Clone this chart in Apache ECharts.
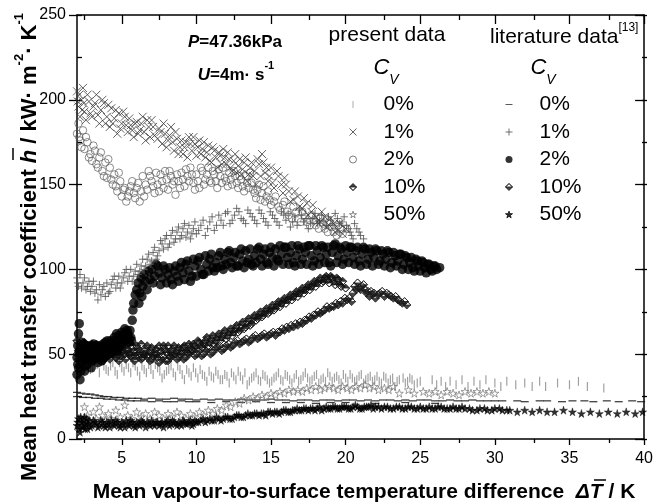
<!DOCTYPE html>
<html><head><meta charset="utf-8">
<script src="https://cdn.jsdelivr.net/npm/echarts@6/dist/echarts.min.js"></script>
<style>html,body{margin:0;padding:0;background:#fff}#c{width:656px;height:504px}</style>
</head><body><div id="c"></div>
<script>
// ---------- axis ticks ----------
const xTicks = [5, 10, 15, 20, 25, 30, 35, 40];
const xMinorTicks = [2.5, 7.5, 12.5, 17.5, 22.5, 27.5, 32.5, 37.5];
const yTicks = [0, 50, 100, 150, 200, 250];

// ---------- present data ----------
const presentCv0 = [[2.6,44],[2.9,41],[3.2,46],[3.5,39],[3.8,43],[4.1,40],[4.4,45],[4.7,38],[5.0,42],[5.3,44],[5.6,39],[5.9,43],[6.2,37],[6.5,41],[6.8,44],[7.1,38],[7.4,42],[7.7,36],[8.0,40],[8.3,43],[8.6,37],[8.9,41],[9.2,35],[9.5,39],[9.8,42],[10.1,36],[10.4,38],[10.7,34],[11.0,37],[11.3,40],[11.6,35],[11.9,38],[12.2,33],[12.5,37],[12.8,40],[13.1,35],[13.4,32],[13.7,36],[14.0,39],[14.3,34],[14.6,37],[14.9,33],[15.2,36],[15.5,39],[15.8,34],[16.1,37],[16.4,33],[16.7,38],[17.0,35],[17.3,39],[17.6,34],[17.9,37],[18.2,33],[18.5,36],[18.8,39],[19.1,34],[19.4,37],[19.7,33],[20.0,36],[20.3,38],[20.6,34],[20.9,37],[21.2,33],[21.5,36],[21.8,34],[22.1,37],[22.4,33],[22.7,36],[23.0,35],[23.3,31],[23.6,35],[24.0,33],[24.3,36],[24.6,32],[25.0,34],[25.8,35],[26.1,32],[26.4,34],[26.7,31],[27.0,34],[27.4,32],[27.8,35],[28.2,31],[28.6,34],[29.0,32],[29.4,35],[30.0,33],[30.4,31],[30.8,34],[31.4,32],[32.0,33],[32.5,31],[33.0,34],[33.4,31],[34.2,33],[35.0,32],[35.6,34],[36.2,31],[37.3,30],
  [2.75,46],[3.05,42],[3.35,44],[3.65,47],[3.95,41],[4.25,43],[4.55,40],[4.85,45],[5.15,40],[5.45,42],[5.75,45],[6.05,40],[6.35,43],[6.65,39],[6.95,41],[7.25,44],[7.55,40],[7.85,38],[8.15,41],[8.45,39],[8.75,43],[9.05,38],[9.35,41],[9.65,37],[9.95,39],[10.25,41],[10.55,37],[10.85,40],[11.15,36],[11.45,38],[11.75,35],[12.05,37],[12.35,39],[12.65,35],[12.95,37],[13.25,39],[13.55,34],[13.85,37],[14.15,35],[14.45,38],[14.75,35],[15.05,34],[15.35,37],[15.65,35],[15.95,38],[16.25,35],[16.55,36],[16.85,34],[17.15,37],[17.45,36],[17.75,35],[18.05,38],[18.35,35],[18.65,34],[18.95,37],[19.25,36],[19.55,35],[19.85,38],[20.15,34],[20.45,36],[20.75,35],[21.05,38],[21.35,35],[21.65,37],[21.95,35],[22.25,34],[22.55,37],[22.85,33],[23.15,36],[23.45,34],[23.85,36],[24.15,34],[24.45,35],[24.8,33]];
const presentCv1 = [[2.0,205],[2.1,196],[2.2,190],[2.3,200],[2.4,207],[2.5,193],[2.6,188],[2.8,199],[3.0,190],[3.1,196],[3.3,203],[3.5,186],[3.6,194],[3.8,198],[4.0,190],[4.2,184],[4.3,195],[4.5,189],[4.7,180],[4.8,192],[5.0,186],[5.2,190],[5.4,181],[5.6,185],[5.8,178],[6.0,187],[6.2,182],[6.4,190],[6.6,176],[6.8,184],[7.0,188],[7.2,179],[7.5,183],[7.7,174],[7.9,180],[8.1,176],[8.3,184],[8.5,170],[8.7,177],[8.9,172],[9.1,168],[9.3,175],[9.5,178],[9.7,170],[9.9,174],[10.0,167],[10.2,176],[10.4,171],[10.6,166],[10.8,173],[11.0,163],[11.2,170],[11.4,160],[11.6,167],[11.8,171],[12.0,162],[12.2,165],[12.4,158],[12.6,168],[12.8,161],[13.0,156],[13.2,163],[13.4,152],[13.6,160],[13.8,155],[14.0,150],[14.2,162],[14.4,168],[14.6,157],[14.8,152],[15.0,160],[15.2,148],[15.5,155],[15.8,145],[16.0,150],[16.3,140],[16.6,146],[16.9,137],[17.2,142],[17.5,132],[17.8,138],[18.1,128],[18.4,134],[18.7,125],[19.0,130],[19.3,122],[19.6,127],[20.0,124],
  [2.05,199],[2.15,203],[2.35,194],[2.45,198],[2.7,203],[2.9,192],[3.2,198],[3.4,191],[3.7,200],[3.9,186],[4.1,197],[4.4,186],[4.6,194],[4.9,183],[5.1,193],[5.3,185],[5.5,189],[5.7,182],[5.9,186],[6.1,180],[6.3,186],[6.5,181],[6.7,188],[6.9,178],[7.1,184],[7.4,177],[7.6,181],[7.8,186],[8.0,172],[8.2,179],[8.4,175],[8.6,181],[8.8,168],[9.0,176],[9.2,172],[9.4,166],[9.6,174],[9.8,178],[10.1,172],[10.3,168],[10.5,175],[10.7,169],[10.9,164],[11.1,172],[11.3,166],[11.5,169],[11.7,162],[11.9,166],[12.1,169],[12.3,160],[12.5,164],[12.7,157],[12.9,165],[13.1,159],[13.3,166],[13.5,156],[13.7,163],[13.9,158],[14.1,165],[14.3,155],[14.5,163],[14.7,160],[14.9,155],[15.1,151],[15.4,158],[15.7,150],[15.9,154],[16.2,146],[16.5,141],[16.8,143],[17.1,136],[17.4,139],[17.7,134],[18.0,131],[18.3,128],[18.6,131],[18.9,126],[19.2,127],[19.5,123],[19.8,121]];
const presentCv2 = [[2.0,180],[2.1,186],[2.2,176],[2.4,182],[2.5,171],[2.7,175],[2.9,168],[3.0,164],[3.2,170],[3.4,160],[3.5,166],[3.7,158],[3.9,163],[4.0,154],[4.2,160],[4.4,150],[4.5,156],[4.7,146],[4.9,152],[5.0,143],[5.2,148],[5.3,140],[5.5,146],[5.7,152],[5.9,142],[6.0,148],[6.2,140],[6.4,155],[6.6,150],[6.8,158],[7.0,152],[7.2,145],[7.4,150],[7.6,156],[7.8,148],[8.0,153],[8.2,158],[8.4,150],[8.6,144],[8.8,152],[9.0,157],[9.2,149],[9.4,155],[9.6,160],[9.8,151],[10.0,156],[10.2,148],[10.4,158],[10.6,153],[10.8,160],[11.0,151],[11.2,156],[11.4,148],[11.6,155],[11.8,160],[12.0,152],[12.2,157],[12.4,150],[12.6,155],[12.8,148],[13.0,153],[13.2,146],[13.4,151],[13.6,157],[13.8,147],[14.0,142],[14.2,150],[14.4,145],[14.6,140],[14.8,146],[15.0,138],[15.3,143],[15.6,135],[15.9,140],[16.2,132],[16.5,137],[16.8,130],[17.1,134],[17.4,128],[17.7,132],[18.0,126],[18.3,130],[18.6,124],[18.9,128],[19.2,122],[19.5,126],[19.8,121],[20.1,124],
  [2.15,178],[2.3,172],[2.6,178],[2.8,166],[3.1,173],[3.3,162],[3.6,169],[3.8,155],[4.1,165],[4.3,153],[4.6,149],[4.8,157],[5.1,147],[5.4,143],[5.6,149],[5.8,145],[6.1,151],[6.3,146],[6.5,143],[6.7,147],[6.9,155],[7.1,149],[7.3,157],[7.5,146],[7.7,152],[7.9,158],[8.1,147],[8.3,155],[8.5,152],[8.7,156],[8.9,148],[9.1,153],[9.3,159],[9.5,152],[9.7,156],[9.9,147],[10.1,152],[10.3,160],[10.5,150],[10.7,156],[10.9,152],[11.1,158],[11.3,152],[11.5,159],[11.7,151],[11.9,154],[12.1,149],[12.3,153],[12.5,158],[12.7,151],[12.9,155],[13.1,149],[13.3,155],[13.5,148],[13.7,151],[13.9,145],[14.1,147],[14.3,141],[14.5,149],[14.7,143],[14.9,141],[15.2,140],[15.5,137],[15.8,138],[16.1,134],[16.4,130],[16.7,134],[17.0,128],[17.3,131],[17.6,126],[17.9,129],[18.2,124],[18.5,127],[18.8,122],[19.1,125],[19.4,120],[19.7,124]];
const presentCv10 = [[2.0,58],[2.1,52],[2.2,55],[2.4,50],[2.6,54],[2.8,51],[3.0,56],[3.2,50],[3.4,53],[3.6,49],[3.8,52],[4.0,55],[4.2,50],[4.4,53],[4.6,48],[4.8,52],[5.0,55],[5.2,50],[5.4,53],[5.6,49],[5.8,52],[6.0,55],[6.2,51],[6.4,48],[6.6,53],[6.8,50],[7.0,54],[7.2,51],[7.4,48],[7.6,52],[7.8,55],[8.0,51],[8.2,49],[8.4,53],[8.6,50],[8.8,54],[9.0,52],[9.2,55],[9.4,51],[9.6,54],[9.8,56],[10.0,53],[10.2,57],[10.4,54],[10.6,58],[10.8,55],[11.0,59],[11.2,56],[11.4,60],[11.6,58],[11.8,62],[12.0,59],[12.2,63],[12.4,61],[12.6,65],[12.8,63],[13.0,67],[13.2,65],[13.4,69],[13.6,67],[13.8,71],[14.0,70],[14.2,73],[14.4,72],[14.6,75],[14.8,74],[15.0,77],[15.2,76],[15.4,79],[15.6,78],[15.8,81],[16.0,80],[16.2,83],[16.4,82],[16.6,85],[16.8,84],[17.0,87],[17.2,86],[17.4,89],[17.6,88],[17.8,91],[18.0,90],[18.2,93],[18.4,92],[18.6,95],[18.8,94],[19.0,96],[19.2,93],[19.4,95],[19.6,91],[19.8,93],[20.0,89],
  [2.3,48],[2.5,57],[2.7,49],[2.9,55],[3.1,48],[3.3,56],[3.5,51],[3.7,55],[3.9,48],[4.1,52],[4.3,56],[4.5,51],[4.7,54],[4.9,49],[5.1,52],[5.3,56],[5.5,51],[5.7,55],[5.9,49],[6.1,53],[6.3,56],[6.5,50],[6.7,55],[6.9,52],[7.1,49],[7.3,53],[7.5,55],[7.7,50],[7.9,53],[8.1,55],[8.3,51],[8.5,55],[8.7,52],[8.9,50],[9.1,54],[9.3,52],[9.5,56],[9.7,53],[9.9,55],[10.1,58],[10.3,55],[10.5,56],[10.7,60],[10.9,57],[11.1,61],[11.3,58],[11.5,62],[11.7,60],[11.9,64],[12.1,61],[12.3,65],[12.5,63],[12.7,67],[12.9,64],[13.1,69],[13.3,66],[13.5,71],[13.7,68],[13.9,73],[14.1,71],[14.3,75],[14.5,73],[14.7,77],[14.9,75],[15.1,79],[15.3,77],[15.5,81],[15.7,80],[15.9,83],[16.1,82],[16.3,85],[16.5,84],[16.7,87],[16.9,86],[17.1,89],[17.3,88],[17.5,91],[17.7,90],[17.9,93],[18.1,92],[18.3,95],[18.5,93],[18.7,96],[18.9,92],[19.1,95],[19.3,91],[19.5,94],[19.7,90]];
const presentCv50 = [[2.1,5],[2.2,12],[2.3,8],[2.5,19],[2.7,14],[2.9,10],[3.1,16],[3.3,12],[3.5,19],[3.7,14],[3.9,11],[4.1,15],[4.3,12],[4.6,17],[4.9,13],[5.2,20],[5.4,14],[5.7,12],[6.0,16],[6.3,13],[6.6,15],[6.9,12],[7.2,16],[7.5,14],[7.8,12],[8.1,15],[8.4,13],[8.7,16],[9.0,14],[9.3,12],[9.6,15],[9.9,13],[10.2,16],[10.5,14],[10.8,17],[11.1,15],[11.4,18],[11.7,17],[12.0,20],[12.3,19],[12.6,22],[12.9,21],[13.2,24],[13.5,23],[13.8,25],[14.1,24],[14.4,26],[14.7,25],[15.0,27],[15.3,26],[15.6,28],[15.9,27],[16.2,29],[16.5,28],[16.8,29],[17.1,28],[17.4,30],[17.7,29],[18.0,31],[18.3,29],[18.6,30],[18.9,31],[19.2,30],[19.5,29],[19.8,31],[20.1,30],[20.4,29],[20.7,31],[21.0,30],[21.3,32],[21.6,30],[21.9,31],[22.2,29],[22.6,30],[22.9,29],[23.2,31],[23.6,27],[24.2,29],[24.6,27],[25.2,28],[25.6,27],[26.0,28],[26.4,26],[26.8,28],[27.2,27],[27.6,26],[28.0,28],[28.4,27],[28.8,28],[29.2,27],[29.6,28],[30.0,27]];

// ---------- literature data [13] ----------
const litCv0 = [[2.0,27.5],[2.3,27],[2.6,26.5],[2.9,26.5],[3.2,26],[3.5,25.5],[3.8,25],[4.1,25],[4.5,24.5],[4.9,24.5],[5.3,24],[5.7,24],[6.1,24],[6.5,23.5],[7.0,24],[7.5,23.5],[8.0,23.5],[8.5,24],[9.0,23.5],[9.5,23.5],[10.0,23],[10.5,23.5],[11.0,23],[11.5,23.5],[12.0,23],[12.5,23],[13.0,23.5],[13.5,23],[14.0,23],[14.5,23],[15.0,23.5],[15.5,23],[16.0,23],[16.5,22.5],[17.0,23],[17.5,23],[18.0,22.5],[18.5,23],[19.0,23],[19.5,22.5],[20.0,23],[20.5,23],[21.0,22.5],[21.5,23],[22.0,22.5],[22.5,23],[23.0,23],[23.5,22.5],[24.0,23],[24.5,22.5],[25.0,23],[25.5,23],[26.0,22.5],[26.5,22.5],[27.0,23],[27.5,22.5],[28.0,22.5],[28.5,23],[29.0,22.5],[29.5,22.5],[30.0,22.5],[30.5,22.5],[31.5,22.5],[32.0,22],[33.0,22.5],[33.5,22.5],[34.5,22],[35.2,22.5],[36.0,22.5],[36.6,22],[37.5,22.5],[38.3,22],[39.2,22.5],[39.8,22],
  [2.0,25],[2.4,24.5],[2.8,24.5],[3.2,24],[3.6,24],[4.0,23.5],[4.4,23.5],[4.8,23],[5.2,23],[5.6,22.5],[6.0,22.5],[6.5,22.5],[7.0,22],[7.5,22.5],[8.0,22],[8.5,22],[9.0,22.5],[9.5,22],[10.0,22],[11.0,21.5],[12.0,22],[13.0,21.5],[14.0,22],[15.0,21.5],[16.0,21.5],[17.0,21.5],[18.0,21],[19.0,21.5],[20.0,21.5],[22.0,21],[24.0,21.5],[26.0,21]];
const litCv1 = [[2.0,95],[2.1,90],[2.2,97],[2.4,92],[2.6,88],[2.8,93],[3.0,90],[3.2,86],[3.4,82],[3.5,91],[3.7,88],[3.9,84],[4.0,92],[4.2,87],[4.4,94],[4.6,89],[4.8,96],[5.0,92],[5.2,98],[5.4,93],[5.6,100],[5.8,96],[6.0,103],[6.2,99],[6.4,106],[6.6,102],[6.8,109],[7.0,105],[7.2,113],[7.4,108],[7.6,117],[7.8,112],[8.0,120],[8.2,115],[8.4,123],[8.6,118],[8.8,125],[9.0,120],[9.2,127],[9.4,122],[9.6,118],[9.8,124],[10.0,121],[10.3,126],[10.6,120],[10.9,128],[11.2,123],[11.5,132],[11.8,126],[12.1,134],[12.4,129],[12.7,136],[13.0,130],[13.3,127],[13.6,133],[13.9,129],[14.2,135],[14.5,130],[14.8,126],[15.1,132],[15.4,128],[15.7,134],[16.0,129],[16.3,125],[16.6,131],[16.9,135],[17.2,128],[17.5,124],[17.8,130],[18.1,127],[18.4,132],[18.7,126],[19.0,129],[19.3,133],[19.6,127],[19.9,131],[20.2,124],[20.4,120],[20.6,127],[20.9,122],[21.2,118],
  [2.05,92],[2.3,89],[2.5,95],[2.7,90],[2.9,87],[3.1,93],[3.3,88],[3.6,85],[3.8,90],[4.1,86],[4.3,91],[4.5,96],[4.7,92],[4.9,89],[5.1,95],[5.3,100],[5.5,96],[5.7,93],[5.9,99],[6.1,97],[6.3,102],[6.5,100],[6.7,106],[6.9,103],[7.1,110],[7.3,106],[7.5,111],[7.7,115],[7.9,118],[8.1,113],[8.3,120],[8.5,116],[8.7,122],[8.9,118],[9.1,124],[9.3,119],[9.5,126],[9.7,121],[9.9,128],[10.15,123],[10.45,129],[10.75,124],[11.05,131],[11.35,126],[11.65,129],[11.95,133],[12.25,127],[12.55,132],[12.85,134],[13.15,129],[13.45,135],[13.75,131],[14.05,127],[14.35,133],[14.65,128],[14.95,134],[15.25,130],[15.55,126],[15.85,132],[16.15,133],[16.45,128],[16.75,126],[17.05,132],[17.35,130],[17.65,127],[17.95,133],[18.25,129],[18.55,128],[18.85,131],[19.15,126],[19.45,130],[19.75,128],[20.05,126],[20.3,122],[20.5,118],[20.75,124],[21.0,120]];
const litCv2 = [[2.0,38],[2.0,48],[2.05,55],[2.1,42],[2.1,62],[2.15,68],[2.2,50],[2.2,35],[2.3,45],[2.3,57],[2.4,52],[2.5,40],[2.5,47],[2.6,55],[2.7,44],[2.8,50],[2.9,53],[3.0,46],[3.1,56],[3.2,49],[3.3,52],[3.4,45],[3.5,55],[3.6,50],[3.7,53],[3.8,48],[3.9,57],[4.0,52],[4.1,55],[4.2,50],[4.3,58],[4.4,54],[4.5,60],[4.6,55],[4.7,52],[4.8,61],[4.9,57],[5.0,63],[5.1,58],[5.2,65],[5.3,60],[5.4,62],[5.5,57],[5.6,60],
  [2.05,44],[2.15,52],[2.25,40],[2.35,49],[2.45,56],[2.55,43],[2.65,50],[2.75,47],[2.85,55],[2.95,42],[3.05,51],[3.15,47],[3.25,55],[3.35,50],[3.45,48],[3.55,52],[3.65,46],[3.75,56],[3.85,51],[3.95,49],[4.05,58],[4.15,53],[4.25,51],[4.35,56],[4.45,52],[4.55,58],[4.65,62],[4.75,56],[4.85,54],[4.95,60],[5.05,56],[5.15,62],[5.25,58],[5.35,64],[5.45,60],[5.55,64],[5.65,58],
  [5.7,70],[5.75,76],[5.8,80],[5.9,85],[6.0,88],[6.1,92],[6.2,86],[6.3,95],[6.4,90],[6.5,97],[6.6,93],[6.8,99],[6.9,94],[7.0,100],[7.2,96],[7.4,102],[7.5,98],[7.7,95],[7.9,100],[8.1,97],[8.3,94],[8.5,99],[8.7,96],[8.9,101],[9.1,98],[9.3,103],[9.5,99],[9.7,96],[9.9,102],[10.1,105],[10.3,100],[10.5,97],[10.7,103],[10.9,106],[11.1,101],[11.3,104],[11.5,108],[11.7,102],[11.9,106],[12.1,110],[12.3,104],[12.5,107],[12.7,102],[12.9,109],[13.1,105],[13.3,111],[13.5,106],[13.7,103],[13.9,108],[14.1,112],[14.3,106],[14.5,109],[14.7,104],[14.9,110],[15.1,107],[15.3,112],[15.5,105],[15.7,109],[15.9,113],[16.1,107],[16.3,110],[16.5,104],[16.7,108],[16.9,112],[17.1,106],[17.3,110],[17.5,114],[17.7,108],[17.9,105],[18.1,111],[18.3,107],[18.5,113],[18.7,109],[18.9,104],[19.1,110],[19.3,115],[19.5,108],[19.7,112],[19.9,106],[20.1,110],[20.3,113],[20.5,107],[20.7,111],[20.9,105],[21.1,109],[21.3,112],[21.5,106],[21.7,110],[21.9,107],[22.1,111],[22.3,105],[22.5,109],[22.7,106],[22.9,110],[23.1,104],[23.3,108],[23.5,105],[23.7,109],[23.9,103],[24.1,107],[24.3,104],[24.5,101],[24.7,106],[24.9,102],[25.1,105],[25.3,101],[25.5,103],[25.7,100],[25.9,102],[26.1,100],[26.3,101],
  [6.15,80],[6.35,84],[6.7,88],[7.1,92],[7.3,103],[7.6,91],[7.8,102],[8.0,92],[8.2,101],[8.4,91],[8.6,102],[8.8,93],[9.0,104],[9.2,94],[9.4,105],[9.6,93],[9.8,106],[10.0,96],[10.2,107],[10.4,97],[10.6,108],[10.8,99],[11.0,109],[11.2,99],[11.4,101],[11.6,110],[11.8,100],[12.0,103],[12.2,111],[12.4,101],[12.6,110],[12.8,102],[13.0,112],[13.2,101],[13.4,104],[13.6,112],[13.8,102],[14.0,104],[14.2,113],[14.4,102],[14.6,112],[14.8,103],[15.0,113],[15.2,102],[15.4,106],[15.6,114],[15.8,103],[16.0,113],[16.2,103],[16.4,114],[16.6,102],[16.8,114],[17.0,103],[17.2,113],[17.4,103],[17.6,114],[17.8,102],[18.0,114],[18.2,103],[18.4,114],[18.6,104],[18.8,113],[19.0,102],[19.2,114],[19.4,104],[19.6,113],[19.8,103],[20.0,114],[20.2,104],[20.4,113],[20.6,103],[20.8,113],[21.0,102],[21.2,113],[21.4,103],[21.6,112],[21.8,102],[22.0,112],[22.2,103],[22.4,111],[22.6,102],[22.8,111],[23.0,101],[23.2,110],[23.4,102],[23.6,109],[23.8,100],[24.0,108],[24.2,100],[24.4,107],[24.6,99],[24.8,105],[25.0,99],[25.2,104],[25.4,98],[25.6,103],[25.8,99],[26.0,102]];
const litCv10 = [[2.0,50],[2.2,53],[2.4,48],[2.6,51],[2.8,47],[3.0,50],[3.3,52],[3.6,48],[3.9,51],[4.2,47],[4.5,50],[4.8,46],[5.1,49],[5.4,52],[5.7,48],[6.0,51],[6.3,47],[6.6,50],[6.9,46],[7.2,49],[7.5,45],[7.8,48],[8.1,46],[8.4,49],[8.7,47],[9.0,50],[9.3,48],[9.6,51],[9.9,49],[10.2,52],[10.5,50],[10.8,53],[11.1,51],[11.4,54],[11.7,52],[12.0,55],[12.3,54],[12.6,57],[12.9,56],[13.2,58],[13.5,57],[13.8,60],[14.1,59],[14.4,61],[14.7,60],[15.0,62],[15.3,61],[15.6,63],[15.9,64],[16.2,65],[16.5,66],[16.8,67],[17.1,68],[17.4,70],[17.7,71],[18.0,73],[18.3,74],[18.6,76],[18.9,77],[19.2,78],[19.5,79],[19.8,80],[20.1,82],[20.4,81],[20.6,90],[20.8,92],[21.0,88],[21.2,91],[21.4,86],[21.6,84],[21.8,85],[22.0,83],[22.3,86],[22.6,84],[22.9,85],[23.2,83],[23.5,82],[23.8,80],[24.1,79],
  [2.1,47],[2.3,51],[2.5,46],[2.7,53],[2.9,49],[3.15,47],[3.45,50],[3.75,46],[4.05,49],[4.35,52],[4.65,48],[4.95,51],[5.25,47],[5.55,50],[5.85,46],[6.15,48],[6.45,50],[6.75,48],[7.05,47],[7.35,50],[7.65,47],[7.95,46],[8.25,48],[8.55,50],[8.85,48],[9.15,47],[9.45,50],[9.75,52],[10.05,50],[10.35,49],[10.65,52],[10.95,50],[11.25,53],[11.55,55],[11.85,53],[12.15,56],[12.45,55],[12.75,58],[13.05,57],[13.35,59],[13.65,58],[13.95,61],[14.25,60],[14.55,62],[14.85,61],[15.15,63],[15.45,63],[15.75,65],[16.05,66],[16.35,67],[16.65,68],[16.95,69],[17.25,70],[17.55,72],[17.85,73],[18.15,75],[18.45,75],[18.75,78],[19.05,78],[19.35,80],[19.65,81],[19.95,83],[20.25,83],[20.5,86],[20.7,88],[20.9,89],[21.1,90],[21.3,88],[21.5,87],[21.7,87],[21.9,86],[22.15,85],[22.45,87],[22.75,86],[23.05,84],[23.35,84],[23.65,81],[23.95,81]];
const litCv50 = [[2.0,8],[2.1,12],[2.2,4],[2.3,10],[2.4,7],[2.5,13],[2.6,9],[2.7,6],[2.8,11],[3.0,8],[3.2,10],[3.4,7],[3.6,11],[3.8,8],[4.0,10],[4.2,7],[4.4,9],[4.6,11],[4.8,8],[5.0,10],[5.2,7],[5.4,9],[5.6,11],[5.8,8],[6.0,10],[6.2,8],[6.4,10],[6.6,7],[6.8,9],[7.0,11],[7.2,8],[7.4,10],[7.6,9],[7.8,7],[8.0,10],[8.2,8],[8.4,11],[8.6,9],[8.8,10],[9.0,8],[9.2,10],[9.4,9],[9.6,11],[9.8,9],[10.0,10],[10.3,11],[10.6,10],[10.9,12],[11.2,11],[11.5,12],[11.8,12],[12.1,13],[12.4,12],[12.7,14],[13.0,13],[13.3,14],[13.6,14],[13.9,15],[14.2,14],[14.5,15],[14.8,16],[15.1,15],[15.4,16],[15.7,16],[16.0,17],[16.3,16],[16.6,17],[16.9,17],[17.2,18],[17.5,17],[17.8,18],[18.1,18],[18.4,17],[18.7,19],[19.0,18],[19.3,19],[19.6,18],[19.9,19],[20.2,18],[20.5,19],[20.8,19],[21.1,18],[21.4,19],[21.7,20],[22.0,19],[22.4,18],[22.8,19],[23.2,18],[23.6,19],[24.0,18],[24.4,19],[24.8,18],[25.2,18],[25.6,19],[26.0,18],[26.4,19],[26.8,18],[27.2,19],[27.6,18],[28.0,18],[28.5,17],[29.0,18],[29.5,17],[30.0,18],[30.5,17],[31.0,17],[31.5,16],[32.0,17],[32.5,16],[33.0,17],[33.5,16],[34.0,16],[34.6,17],[35.2,16],[35.8,15],[36.4,16],[37.0,15],[37.6,16],[38.2,15],[38.8,16],[39.4,15],[39.9,16],
  [2.05,10],[2.15,6],[2.25,13],[2.35,8],[2.45,11],[2.55,6],[2.65,12],[2.75,9],[2.9,7],[3.1,11],[3.3,9],[3.5,8],[3.7,10],[3.9,7],[4.1,9],[4.3,11],[4.5,8],[4.7,10],[4.9,7],[5.1,9],[5.3,11],[5.5,8],[5.7,10],[5.9,7],[6.1,9],[6.3,11],[6.5,9],[6.7,10],[6.9,8],[7.1,9],[7.3,10],[7.5,8],[7.7,10],[7.9,9],[8.1,11],[8.3,9],[8.5,10],[8.7,8],[8.9,9],[9.1,11],[9.3,9],[9.5,10],[9.7,8],[9.9,11],[10.15,10],[10.45,12],[10.75,11],[11.05,11],[11.35,13],[11.65,11],[11.95,13],[12.25,12],[12.55,13],[12.85,14],[13.15,13],[13.45,15],[13.75,14],[14.05,15],[14.35,15],[14.65,14],[14.95,16],[15.25,16],[15.55,15],[15.85,17],[16.15,16],[16.45,17],[16.75,18],[17.05,17],[17.35,18],[17.65,18],[17.95,17],[18.25,19],[18.55,18],[18.85,18],[19.15,19],[19.45,18],[19.75,19],[20.05,19],[20.35,18],[20.65,20],[20.95,18],[21.25,19],[21.55,19],[21.85,18],[22.2,19],[22.6,19],[23.0,18],[23.4,19],[23.8,18],[24.2,19],[24.6,18],[25.0,19],[25.4,18],[25.8,18],[26.2,19],[26.6,18],[27.0,18],[27.4,18],[27.8,19],[28.3,18],[28.8,17],[29.3,18],[29.8,17],[30.3,18],[30.8,17]];

// ---------- styling ----------
const FONT = '"Liberation Sans", Arial, Helvetica, sans-serif';
const SYM_VBAR = 'path://M0,0h1v8h-1z';
const SYM_HBAR = 'path://M0,0h8v1h-8z';
const SYM_X = 'path://M0,0L10,10M10,0L0,10';
const SYM_PLUS = 'path://M5,0L5,10M0,5L10,5';
const SYM_STAR = 'path://M50,0L61,35L98,35L68,57L79,91L50,70L21,91L32,57L2,35L39,35Z';
const SYM_DIA_TOP = 'path://M5,0L10,5L5,10L0,5Z M0,5L5,10L10,5Z';
const SYM_DIA_BOT = 'path://M5,0L10,5L5,10L0,5Z M0,5L10,5L5,0Z';
const CLEAR = 'rgba(0,0,0,0)';

function sc(name, data, symbol, size, itemStyle) {
  return { type: 'scatter', name, data, symbol, symbolSize: size, xAxisIndex: 0, yAxisIndex: 0,
    itemStyle, emphasis: { disabled: true }, silent: true, clip: true, large: false };
}

const series = [
  sc('literature 0%', litCv0, SYM_HBAR, [8, 1.3], { color: '#111' }),
  sc('present 0%', presentCv0, SYM_VBAR, [1.2, 9], { color: '#8a8a8a' }),
  sc('present 50%', presentCv50, SYM_STAR, 8, { color: CLEAR, borderColor: '#6a6a6a', borderWidth: 0.8 }),
  sc('literature 50%', litCv50, SYM_STAR, 8, { color: '#000', borderColor: '#000', borderWidth: 0.5 }),
  sc('literature 10%', litCv10, SYM_DIA_BOT, 8, { color: '#1a1a1a', borderColor: '#1a1a1a', borderWidth: 0.9 }),
  sc('present 10%', presentCv10, SYM_DIA_TOP, 8, { color: '#111', borderColor: '#111', borderWidth: 0.9 }),
  sc('literature 2%', litCv2, 'circle', 9.5, { color: '#000' }),
  sc('literature 1%', litCv1, SYM_PLUS, 7.5, { color: CLEAR, borderColor: '#505050', borderWidth: 1 }),
  sc('present 2%', presentCv2, 'circle', 7.5, { color: CLEAR, borderColor: '#5e5e5e', borderWidth: 0.9 }),
  sc('present 1%', presentCv1, SYM_X, 8, { color: CLEAR, borderColor: '#3c3c3c', borderWidth: 1 })
];

const gridRect = { left: 77, right: 9, top: 15, bottom: 65 };
const lineSt = { color: '#000', width: 1.5 };
const tickSt = { color: '#000', width: 1.3 };

const option = {
  animation: false,
  backgroundColor: '#fff',
  grid: [Object.assign({ containLabel: false }, gridRect), Object.assign({ containLabel: false }, gridRect)],
  xAxis: [
    { type: 'value', gridIndex: 0, position: 'bottom', min: 2, max: 40,
      axisLine: { show: true, onZero: false, lineStyle: lineSt },
      axisTick: { show: true, customValues: xTicks, inside: false, length: 6, lineStyle: tickSt },
      axisLabel: { show: true, customValues: xTicks, margin: 12, fontSize: 16, color: '#000', fontFamily: FONT },
      splitLine: { show: false } },
    { type: 'value', gridIndex: 0, position: 'top', min: 2, max: 40,
      axisLine: { show: true, onZero: false, lineStyle: lineSt },
      axisTick: { show: true, customValues: xTicks, inside: true, length: 9, lineStyle: tickSt },
      axisLabel: { show: false }, splitLine: { show: false } },
    { type: 'value', gridIndex: 1, position: 'bottom', min: 2, max: 40,
      axisLine: { show: false, onZero: false },
      axisTick: { show: true, customValues: xMinorTicks, inside: false, length: 4, lineStyle: tickSt },
      axisLabel: { show: false }, splitLine: { show: false } },
    { type: 'value', gridIndex: 1, position: 'top', min: 2, max: 40,
      axisLine: { show: false, onZero: false },
      axisTick: { show: true, customValues: xMinorTicks, inside: true, length: 5, lineStyle: tickSt },
      axisLabel: { show: false }, splitLine: { show: false } }
  ],
  yAxis: [
    { type: 'value', gridIndex: 0, position: 'left', min: 0, max: 250,
      axisLine: { show: true, onZero: false, lineStyle: lineSt },
      axisTick: { show: true, customValues: yTicks, inside: false, length: 8, lineStyle: tickSt },
      axisLabel: { show: true, customValues: yTicks, margin: 11, fontSize: 16, color: '#000', fontFamily: FONT },
      splitLine: { show: false } },
    { type: 'value', gridIndex: 0, position: 'right', min: 0, max: 250,
      axisLine: { show: true, onZero: false, lineStyle: lineSt },
      axisTick: { show: true, customValues: yTicks, inside: true, length: 9, lineStyle: tickSt },
      axisLabel: { show: false }, splitLine: { show: false } },
    { type: 'value', gridIndex: 1, position: 'left', min: 0, max: 250, interval: 25,
      axisLine: { show: false, onZero: false },
      axisTick: { show: true, inside: true, length: 5, lineStyle: tickSt },
      axisLabel: { show: false }, splitLine: { show: false } },
    { type: 'value', gridIndex: 1, position: 'right', min: 0, max: 250, interval: 25,
      axisLine: { show: false, onZero: false },
      axisTick: { show: true, inside: true, length: 5, lineStyle: tickSt },
      axisLabel: { show: false }, splitLine: { show: false } }
  ],
  legend: [
    { left: 344, top: 89, orient: 'vertical', itemWidth: 7, itemHeight: 7, itemGap: 6.5, selectedMode: false,
      data: ['present 0%', 'present 1%', 'present 2%', 'present 10%', 'present 50%'],
      formatter: n => n.split(' ')[1],
      itemStyle: { borderWidth: 1 },
      textStyle: { fontSize: 21, color: '#000', fontFamily: FONT, padding: [0, 0, 0, 22] } },
    { left: 500, top: 89, orient: 'vertical', itemWidth: 7, itemHeight: 7, itemGap: 6.5, selectedMode: false,
      data: ['literature 0%', 'literature 1%', 'literature 2%', 'literature 10%', 'literature 50%'],
      formatter: n => n.split(' ')[1],
      itemStyle: { borderWidth: 1 },
      textStyle: { fontSize: 21, color: '#000', fontFamily: FONT, padding: [0, 0, 0, 22] } }
  ],
  graphic: [
    { type: 'text', x: 387, y: 35, silent: true,
      style: { text: 'present data', font: '21px ' + FONT, fill: '#000', align: 'center', verticalAlign: 'middle' } },
    { type: 'text', x: 490, y: 35, silent: true,
      style: { text: '{a|literature data}{s|[13]}', align: 'left', verticalAlign: 'middle', fill: '#000',
        rich: { a: { fontSize: 21, fontFamily: FONT, lineHeight: 26, verticalAlign: 'bottom' },
                s: { fontSize: 12, fontFamily: FONT, lineHeight: 12, verticalAlign: 'top' } } } },
    { type: 'text', x: 386, y: 72, silent: true,
      style: { text: '{c|C}{v|V}', align: 'center', verticalAlign: 'middle', fill: '#000',
        rich: { c: { fontSize: 22, fontStyle: 'italic', fontFamily: FONT, lineHeight: 30, verticalAlign: 'top' },
                v: { fontSize: 14, fontStyle: 'italic', fontFamily: FONT, lineHeight: 14, verticalAlign: 'bottom' } } } },
    { type: 'text', x: 543, y: 72, silent: true,
      style: { text: '{c|C}{v|V}', align: 'center', verticalAlign: 'middle', fill: '#000',
        rich: { c: { fontSize: 22, fontStyle: 'italic', fontFamily: FONT, lineHeight: 30, verticalAlign: 'top' },
                v: { fontSize: 14, fontStyle: 'italic', fontFamily: FONT, lineHeight: 14, verticalAlign: 'bottom' } } } },
    { type: 'text', x: 235, y: 42, silent: true,
      style: { text: '{i|P}{b|=47.36kPa}', align: 'center', verticalAlign: 'middle', fill: '#000',
        rich: { i: { fontSize: 17, fontWeight: 'bold', fontStyle: 'italic', fontFamily: FONT },
                b: { fontSize: 17, fontWeight: 'bold', fontFamily: FONT } } } },
    { type: 'text', x: 236, y: 72, silent: true,
      style: { text: '{i|U}{b|=4m· s}{s|-1}', align: 'center', verticalAlign: 'middle', fill: '#000',
        rich: { i: { fontSize: 17, fontWeight: 'bold', fontStyle: 'italic', fontFamily: FONT, lineHeight: 24, verticalAlign: 'bottom' },
                b: { fontSize: 17, fontWeight: 'bold', fontFamily: FONT, lineHeight: 24, verticalAlign: 'bottom' },
                s: { fontSize: 11, fontWeight: 'bold', fontFamily: FONT, lineHeight: 11, verticalAlign: 'top' } } } },
    { type: 'text', x: 27, y: 247, rotation: Math.PI / 2, silent: true,
      style: { text: '{b|Mean heat transfer coefficient }{i|h}{b| / kW· m}{s|-2}{b|· K}{s|-1}',
        align: 'center', verticalAlign: 'middle', fill: '#000',
        rich: { b: { fontSize: 22, fontWeight: 'bold', fontFamily: FONT, lineHeight: 28, verticalAlign: 'bottom' },
                i: { fontSize: 22, fontWeight: 'bold', fontStyle: 'italic', fontFamily: FONT, lineHeight: 28, verticalAlign: 'bottom' },
                s: { fontSize: 13, fontWeight: 'bold', fontFamily: FONT, lineHeight: 13, verticalAlign: 'top' } } } },
    { type: 'line', silent: true, shape: { x1: 13, y1: 148, x2: 13, y2: 160 }, style: { stroke: '#000', lineWidth: 1.5 } },
    { type: 'text', x: 364, y: 492, silent: true,
      style: { text: '{b|Mean vapour-to-surface temperature difference  }{i|ΔT}{b| / K}',
        align: 'center', verticalAlign: 'middle', fill: '#000',
        rich: { b: { fontSize: 21, fontWeight: 'bold', fontFamily: FONT },
                i: { fontSize: 21, fontWeight: 'bold', fontStyle: 'italic', fontFamily: FONT } } } },
    { type: 'line', silent: true, shape: { x1: 594, y1: 480, x2: 606, y2: 480 }, style: { stroke: '#000', lineWidth: 1.5 } }
  ],
  series
};

const chart = echarts.init(document.getElementById('c'), null, { renderer: 'canvas' });
chart.setOption(option);
</script>
</body></html>
